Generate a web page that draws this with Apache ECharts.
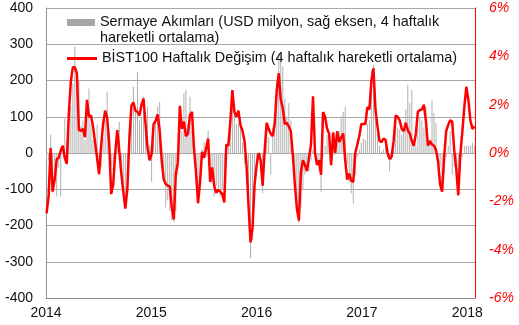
<!DOCTYPE html>
<html>
<head>
<meta charset="utf-8">
<style>
  html, body { margin: 0; padding: 0; background: #fff; }
  #chart { width: 519px; height: 325px; }
</style>
<script src="https://cdn.jsdelivr.net/npm/echarts@6/dist/echarts.min.js"></script>
</head>
<body>
<div id="chart"></div>
<script>
// Weekly observations, first week ending 3 Jan 2014
const firstWeek = Date.UTC(2014, 0, 3);

// Capital flows, USD million (4-week moving average), left axis
const capitalFlows = [
  -15, -20, 50, -110, -60, -120, -40, -120, 10, 95,
  35, 60, 128, 192, 293, 220, 200, 75, 90, 36,
  100, 178, 82, 36, 20, 77, -20, -40, 40, 91,
  169, 60, -37, -50, 10, 60, 86, -60, -90, -120,
  -100, 60, 137, 183, 120, 224, 90, 100, 155, 60,
  128, 20, -79, 60, 100, 128, 141, 20, -75, -150,
  -130, -160, -185, -190, -160, -60, 100, 60, 165, 174,
  80, 155, 60, 20, -40, -90, -60, 10, 30, -10,
  63, -60, -80, -120, -90, -100, -120, -100, -110, 15,
  40, 82, 170, 120, 80, 82, 70, 30, -30, -60,
  -150, -290, -240, -111, -50, -20, -40, -111, 20, 82,
  45, -60, 70, 100, 200, 275, 266, 238, 150, 100,
  137, 90, 10, -70, -130, -193, -150, -100, -60, -40,
  -50, -20, 10, 30, -20, -50, -107, -10, 20, 50,
  40, -10, 20, -5, 30, 60, 100, 114, 128, -30,
  -80, -111, -139, -60, -10, 10, 30, 40, 35, 80,
  90, 229, 243, 100, 50, 20, 5, 10, 20, -10,
  -51, -20, 30, 80, 70, 65, 50, 60, 119, 188,
  137, 174, 40, 20, 70, 100, 90, 70, 127, 20,
  30, 146, 110, 82, -10, -40, -102, -60, -10, 20,
  60, -60, -37, -50, -111, -40, -10, 20, 20, 20,
  20, 28, 20
];

// BIST100 weekly change, % (4-week moving average), right axis
const bistChange = [
  -2.5, -1.8, 0.2, -1.6, -1.1, -0.25, -0.2, 0.1, 0.3, -0.2,
  -0.45, 1.6, 2.95, 3.55, 3.55, 3.3, 0.95, 0.92, 1.0, 0.65,
  2.2, 1.5, 1.55, 1.1, 0.45, -0.2, -0.88, 0.3, 1.2, 1.75,
  1.45, 0.4, -1.7, -1.3, 0.0, 0.95, 0.1, -0.85, -1.6, -2.3,
  -1.5, 0.6, 1.95, 2.1, 1.75, 1.7, 1.55, 2.0, 2.25, 1.2,
  0.2, -0.3, -0.05, 1.2, 1.33, 1.6, 0.95, -0.3, -1.1, -1.28,
  -1.35, -1.39, -2.25, -2.75, -0.85, -0.4, 1.95, 1.0, 1.3, 0.7,
  0.8, 1.57, 1.7, 0.2, -0.8, -2.08, -1.2, 0.05, -0.2, 0.2,
  0.6, -1.2, -0.6, -1.35, -1.65, -1.53, -1.6, -1.7, -2.05, 0.35,
  0.3, 1.3, 2.6, 1.7, 1.5, 1.75, 1.16, 0.92, 0.5, -0.5,
  -2.2, -3.7, -3.1, -1.3, -0.5, 0.0, -0.3, -1.35, 0.1, 1.25,
  1.0, 0.8, 0.7, 1.23, 2.6, 3.3, 2.2, 1.85, 1.2, 1.25,
  1.1, 0.9, -0.1, -1.3, -2.3, -2.8, -0.8, -0.3, -0.5, -0.75,
  -0.2, 0.35, 2.35, 0.0, -0.5, -0.3, -0.9, 1.7, 1.5, 1.0,
  0.8, -0.5, 0.85, 0.0, 0.9, 0.45, 0.65, 0.8, -0.3, -1.1,
  -0.85, -1.15, -1.2, 0.0, 0.35, 0.7, 1.2, 1.2, 1.2, 1.9,
  1.8, 3.0, 3.5, 1.8, 1.1, 0.5, 0.45, 0.6, 0.55, 0.0,
  -0.25, -0.15, 0.5, 1.55, 1.5, 1.35, 1.0, 0.9, 1.25, 0.95,
  0.8, 0.5, 0.3, 0.8, 1.7, 1.78, 1.8, 2.0, 1.3, 0.3,
  0.5, 0.35, 0.3, 0.12, -0.35, -1.3, -1.6, -0.2, 0.9, 1.16,
  1.35, 1.3, 0.1, -0.65, -1.75, -0.1, 0.85, 1.9, 2.74, 2.2,
  1.35, 1.0, 1.1
];

const flowName = 'Sermaye Akımları (USD milyon, sağ eksen, 4 haftalık hareketli ortalama)';
const bistName = 'BİST100 Haftalık Değişim (4 haftalık hareketli ortalama)';

const leftTicks = { min: -400, max: 400, step: 100 };
const rightTicks = { min: -6, max: 6, step: 2 };
const yearRange = { min: 2014, max: 2018.074 };

// Week dates expressed as decimal years for the x axis
const DAY = 86400000;
const toYear = t => {
  const d = new Date(t);
  const y = d.getUTCFullYear();
  const start = Date.UTC(y, 0, 1);
  const len = Date.UTC(y + 1, 0, 1) - start;
  return y + (t - start) / len;
};
const weekYears = capitalFlows.map((_, i) => toYear(firstWeek + i * 7 * DAY));

const FONT = '"Liberation Sans", Arial, sans-serif';
const TEXT = '#111';
const LEGEND_SIZE = 14.4;
const GRID_GREY = '#a8a8a8';
const AXIS_GREY = '#909090';

const chart = echarts.init(document.getElementById('chart'), null, { renderer: 'canvas' });

chart.setOption({
  animation: false,
  backgroundColor: '#fff',
  textStyle: { fontFamily: FONT },
  grid: { left: 46, right: 44, top: 8, bottom: 27, containLabel: false },
  legend: [
    {
      data: [{ name: flowName, itemStyle: { color: '#a6a6a6' } }],
      left: 67,
      top: 15.5,
      padding: 0,
      icon: 'rect',
      itemWidth: 28,
      itemHeight: 7,
      selectedMode: false,
      formatter: n => '{t|' + n.replace(' hareketli', '}\n{t|hareketli') + '}',
      textStyle: {
        padding: [16, 0, 0, 0],
        rich: { t: { fontSize: LEGEND_SIZE, lineHeight: 16, color: TEXT, fontFamily: FONT } }
      }
    },
    {
      data: [{ name: bistName, icon: 'rect', itemStyle: { color: '#ff0000' } }],
      left: 67,
      top: 50.5,
      padding: 0,
      itemWidth: 30,
      itemHeight: 3,
      selectedMode: false,
      textStyle: { fontSize: LEGEND_SIZE, lineHeight: 16, color: TEXT, fontFamily: FONT }
    }
  ],
  xAxis: {
    type: 'value',
    min: yearRange.min,
    max: yearRange.max,
    interval: 1,
    axisLine: { show: true, onZero: false, lineStyle: { color: AXIS_GREY, width: 1 } },
    axisTick: { show: false },
    splitLine: { show: false },
    axisLabel: {
      margin: 8,
      fontSize: 14,
      color: TEXT,
      fontFamily: FONT,
      formatter: v => (Math.abs(v - Math.round(v)) < 1e-6 ? String(Math.round(v)) : '')
    }
  },
  yAxis: [
    {
      type: 'value',
      min: leftTicks.min,
      max: leftTicks.max,
      interval: leftTicks.step,
      axisLine: { show: true, onZero: false, lineStyle: { color: AXIS_GREY, width: 1 } },
      axisTick: { show: false },
      splitLine: { show: true, lineStyle: { color: GRID_GREY, width: 1 } },
      axisLabel: { margin: 13, fontSize: 14, color: TEXT, fontFamily: FONT }
    },
    {
      type: 'value',
      position: 'right',
      min: rightTicks.min,
      max: rightTicks.max,
      interval: rightTicks.step,
      axisLine: { show: true, onZero: false, lineStyle: { color: '#ff0000', width: 1 } },
      axisTick: { show: false },
      splitLine: { show: false },
      axisLabel: {
        margin: 14,
        fontSize: 14,
        color: '#ff0000',
        fontStyle: 'italic',
        fontFamily: FONT,
        formatter: v => v + '%'
      }
    }
  ],
  series: [
    {
      name: flowName,
      type: 'bar',
      yAxisIndex: 0,
      barWidth: 1,
      silent: true,
      itemStyle: { color: '#b0b0b0' },
      data: capitalFlows.map((v, i) => [weekYears[i], v])
    },
    {
      name: bistName,
      type: 'line',
      yAxisIndex: 1,
      symbol: 'none',
      silent: true,
      z: 3,
      itemStyle: { color: '#ff0000' },
      lineStyle: { color: '#ff0000', width: 2.5 },
      data: bistChange.map((v, i) => [weekYears[i], v])
    }
  ]
});
</script>
</body>
</html>
